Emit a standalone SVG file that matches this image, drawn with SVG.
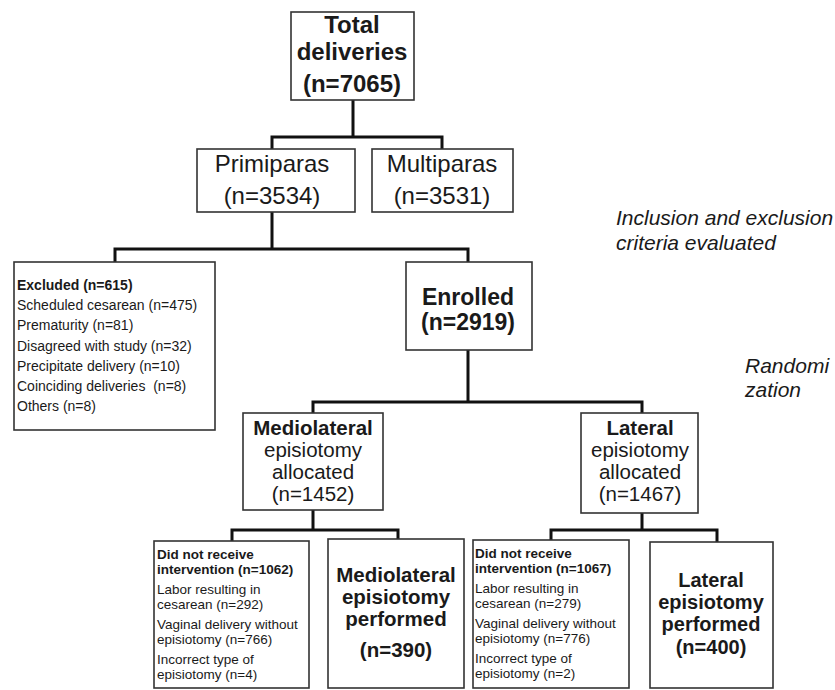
<svg xmlns="http://www.w3.org/2000/svg" width="835" height="690" viewBox="0 0 835 690">
<style>
.box{fill:#fff;stroke:#333;stroke-width:1.6}
.con{fill:none;stroke:#111;stroke-width:3;stroke-linejoin:miter}
text{font-family:"Liberation Sans",Arial,sans-serif;fill:#1a1a1a}
.t24b{font-size:24px;font-weight:bold;text-anchor:middle}
.t23b{font-size:23px;font-weight:bold;text-anchor:middle}
.t24{font-size:24px;text-anchor:middle}
.t21{font-size:20.5px;text-anchor:middle}
.t21b{font-size:20.5px;font-weight:bold;text-anchor:middle}
.p20b{font-size:20px;font-weight:bold;text-anchor:middle}
.s14{font-size:14px}
.s14b{font-size:14px;font-weight:bold}
.s13{font-size:13.5px}
.s13b{font-size:13.5px;font-weight:bold}
.it{font-size:21px;font-style:italic}
</style>
<rect width="835" height="690" fill="#fff"/>
<g id="connectors">
<path class="con" d="M353 100V137M272 149V137H442V149"/>
<path class="con" d="M272 212V249M115 262V249H468V262"/>
<path class="con" d="M468 350V402M313 413V402H642V413"/>
<path class="con" d="M313 510V530M232 541V530H398V539"/>
<path class="con" d="M642 513V530M551 540V530H717V542"/>
</g>
<g id="total">
<rect class="box" x="291" y="12" width="123" height="88"/>
<text class="t24b" x="352" y="33">Total</text>
<text class="t24b" x="352" y="60">deliveries</text>
<text class="t24b" x="352" y="92">(n=7065)</text>
</g>
<g id="primiparas">
<rect class="box" x="197" y="149" width="158" height="63"/>
<text class="t24" x="272" y="172">Primiparas</text>
<text class="t24" x="272" y="204">(n=3534)</text>
</g>
<g id="multiparas">
<rect class="box" x="372" y="149" width="141" height="63"/>
<text class="t24" x="442" y="172">Multiparas</text>
<text class="t24" x="442" y="204">(n=3531)</text>
</g>
<g id="excluded">
<rect class="box" x="14" y="262" width="201" height="168"/>
<text class="s14b" x="17" y="290">Excluded (n=615)</text>
<text class="s14" x="17" y="310">Scheduled cesarean (n=475)</text>
<text class="s14" x="17" y="330">Prematurity (n=81)</text>
<text class="s14" x="17" y="351">Disagreed with study (n=32)</text>
<text class="s14" x="17" y="371">Precipitate delivery (n=10)</text>
<text class="s14" x="17" y="391" xml:space="preserve">Coinciding deliveries  (n=8)</text>
<text class="s14" x="17" y="411">Others (n=8)</text>
</g>
<g id="enrolled">
<rect class="box" x="406" y="262" width="126" height="88"/>
<text class="t23b" x="468" y="305">Enrolled</text>
<text class="t23b" x="468" y="330">(n=2919)</text>
</g>
<g id="med-alloc">
<rect class="box" x="243" y="413" width="140" height="97"/>
<text class="t21b" x="313" y="435">Mediolateral</text>
<text class="t21" x="313" y="457">episiotomy</text>
<text class="t21" x="313" y="479">allocated</text>
<text class="t21" x="313" y="501">(n=1452)</text>
</g>
<g id="lat-alloc">
<rect class="box" x="581" y="413" width="117" height="100"/>
<text class="t21b" x="640" y="435">Lateral</text>
<text class="t21" x="640" y="457">episiotomy</text>
<text class="t21" x="640" y="479">allocated</text>
<text class="t21" x="640" y="501">(n=1467)</text>
</g>
<g id="med-notreceived">
<rect class="box" x="154" y="541" width="155" height="147"/>
<text class="s13b" x="157" y="559">Did not receive</text>
<text class="s13b" x="157" y="574">intervention (n=1062)</text>
<text class="s13" x="157" y="594">Labor resulting in</text>
<text class="s13" x="157" y="609">cesarean (n=292)</text>
<text class="s13" x="157" y="629">Vaginal delivery without</text>
<text class="s13" x="157" y="644">episiotomy (n=766)</text>
<text class="s13" x="157" y="664">Incorrect type of</text>
<text class="s13" x="157" y="679">episiotomy (n=4)</text>
</g>
<g id="med-performed">
<rect class="box" x="328" y="539" width="136" height="149"/>
<text class="t21b" x="396" y="582">Mediolateral</text>
<text class="t21b" x="396" y="604">episiotomy</text>
<text class="t21b" x="396" y="626">performed</text>
<text class="t21b" x="396" y="657">(n=390)</text>
</g>
<g id="lat-notreceived">
<rect class="box" x="473" y="540" width="156" height="148"/>
<text class="s13b" x="475" y="558">Did not receive</text>
<text class="s13b" x="475" y="573">intervention (n=1067)</text>
<text class="s13" x="475" y="593">Labor resulting in</text>
<text class="s13" x="475" y="608">cesarean (n=279)</text>
<text class="s13" x="475" y="628">Vaginal delivery without</text>
<text class="s13" x="475" y="643">episiotomy (n=776)</text>
<text class="s13" x="475" y="663">Incorrect type of</text>
<text class="s13" x="475" y="678">episiotomy (n=2)</text>
</g>
<g id="lat-performed">
<rect class="box" x="650" y="542" width="123" height="146"/>
<text class="p20b" x="711" y="587">Lateral</text>
<text class="p20b" x="711" y="609">episiotomy</text>
<text class="p20b" x="711" y="631">performed</text>
<text class="p20b" x="711" y="654">(n=400)</text>
</g>
<g id="labels">
<text class="it" x="616" y="225">Inclusion and exclusion</text>
<text class="it" x="616" y="250">criteria evaluated</text>
<text class="it" x="745" y="373">Randomi</text>
<text class="it" x="745" y="397">zation</text>
</g>
</svg>
